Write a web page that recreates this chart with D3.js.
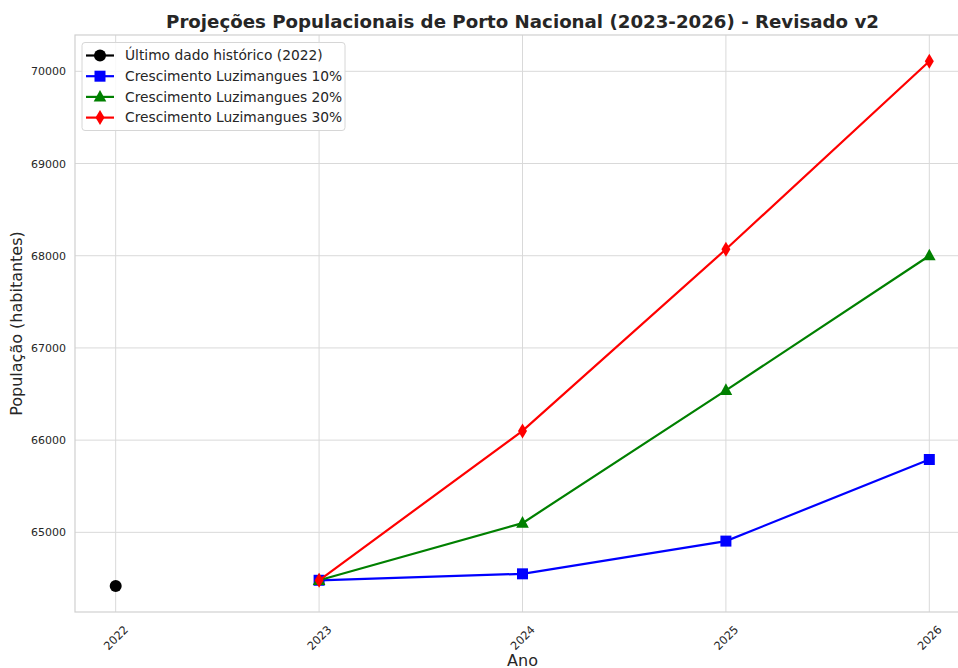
<!DOCTYPE html>
<html><head><meta charset="utf-8">
<script src="https://cdn.jsdelivr.net/npm/d3@7"></script>
<style>
body{margin:0;background:#fff;}
text{font-family:"DejaVu Sans",sans-serif;fill:#262626;}
</style></head>
<body><svg id="c" width="958" height="668"></svg>
<script>
const titleText = "Projeções Populacionais de Porto Nacional (2023-2026) - Revisado v2";
const xLabel = "Ano";
const yLabel = "População (habitantes)";
const xTicks = [2022, 2023, 2024, 2025, 2026];
const yTicks = [65000, 66000, 67000, 68000, 69000, 70000];
const histYears = [2022];
const histValues = [64418];
const projYears = [2023, 2024, 2025, 2026];
const s10 = [64480, 64550, 64905, 65790];
const s20 = [64480, 65100, 66540, 68000];
const s30 = [64480, 66100, 68070, 70110];
const seriesNames = ["Último dado histórico (2022)", "Crescimento Luzimangues 10%", "Crescimento Luzimangues 20%", "Crescimento Luzimangues 30%"];

const svg = d3.select("#c");
const L = 75, R = 970, T = 35, B = 612;
const x = d3.scaleLinear().domain([2021.8, 2026.2]).range([L, R]);
const y = d3.scaleLinear().domain([64136, 70394]).range([B, T]);

const gridCol = "#d9d9d9";
svg.append("g").selectAll("line").data(yTicks).join("line")
  .attr("x1", L).attr("x2", R).attr("y1", d => y(d)).attr("y2", d => y(d))
  .attr("stroke", gridCol).attr("stroke-width", 1);
svg.append("g").selectAll("line").data(xTicks).join("line")
  .attr("y1", T).attr("y2", B).attr("x1", d => x(d)).attr("x2", d => x(d))
  .attr("stroke", gridCol).attr("stroke-width", 1);
svg.append("rect").attr("x", L).attr("y", T).attr("width", R - L).attr("height", B - T)
  .attr("fill", "none").attr("stroke", "#d0d0d0").attr("stroke-width", 1.2);

const yAxis = svg.append("g").attr("transform", `translate(${L},0)`)
  .call(d3.axisLeft(y).tickValues(yTicks).tickFormat(d3.format("d")).tickSize(0).tickPadding(9));
yAxis.select(".domain").remove();
yAxis.selectAll("text").attr("font-size", 11).attr("fill", "#262626").style("font-family", "DejaVu Sans");

const xAxis = svg.append("g").attr("transform", `translate(0,${B})`)
  .call(d3.axisBottom(x).tickValues(xTicks).tickFormat(d3.format("d")).tickSize(0));
xAxis.select(".domain").remove();
xAxis.selectAll("text").attr("font-size", 11.3).attr("fill", "#262626").style("font-family", "DejaVu Sans")
  .attr("y", 0).attr("dy", null).attr("text-anchor", "middle").attr("dominant-baseline", "central")
  .attr("transform", "translate(0,26) rotate(-45)");

svg.append("text").attr("x", (L + R) / 2).attr("y", 28).attr("text-anchor", "middle")
  .attr("font-size", 18.2).attr("font-weight", "bold").text(titleText);
svg.append("text").attr("x", (L + R) / 2).attr("y", 666).attr("text-anchor", "middle")
  .attr("font-size", 16).text(xLabel);
svg.append("text").attr("transform", `translate(22,${(T + B) / 2}) rotate(-90)`).attr("text-anchor", "middle")
  .attr("font-size", 16).text(yLabel);

function markerPath(type) {
  if (type === "circle") return d3.symbol().type(d3.symbolCircle).size(Math.PI * 36)();
  if (type === "square") return "M-5.5,-5.5H5.5V5.5H-5.5Z";
  if (type === "triangle") return "M0,-7L6.3,4.6L-6.3,4.6Z";
  if (type === "diamond") return "M0,-7.5L4.5,0L0,7.5L-4.5,0Z";
}
const line = d3.line().x(d => x(d[0])).y(d => y(d[1]));
const series = [
  {name: seriesNames[0], years: histYears, vals: histValues, color: "black", m: "circle"},
  {name: seriesNames[1], years: projYears, vals: s10, color: "blue", m: "square"},
  {name: seriesNames[2], years: projYears, vals: s20, color: "green", m: "triangle"},
  {name: seriesNames[3], years: projYears, vals: s30, color: "red", m: "diamond"},
];
series.forEach(s => {
  const pts = s.years.map((yr, i) => [yr, s.vals[i]]);
  const g = svg.append("g");
  if (pts.length > 1) g.append("path").attr("d", line(pts)).attr("fill", "none")
    .attr("stroke", s.color).attr("stroke-width", 2.2);
  g.selectAll("path.m").data(pts).join("path").attr("class", "m")
    .attr("d", markerPath(s.m)).attr("fill", s.color)
    .attr("transform", d => `translate(${x(d[0])},${y(d[1])})`);
});

const lg = svg.append("g");
lg.append("rect").attr("x", 82).attr("y", 42.5).attr("width", 263).attr("height", 88)
  .attr("rx", 3).attr("fill", "white").attr("fill-opacity", 0.85).attr("stroke", "#d6d6d6").attr("stroke-width", 1);
series.forEach((s, i) => {
  const yy = 55.5 + i * 20.7;
  lg.append("line").attr("x1", 86).attr("x2", 114).attr("y1", yy).attr("y2", yy)
    .attr("stroke", s.color).attr("stroke-width", 2.2);
  lg.append("path").attr("d", markerPath(s.m)).attr("fill", s.color).attr("transform", `translate(100,${yy})`);
  lg.append("text").attr("x", 125).attr("y", yy).attr("dy", "0.35em").attr("font-size", 13.8).text(s.name);
});
</script></body></html>
